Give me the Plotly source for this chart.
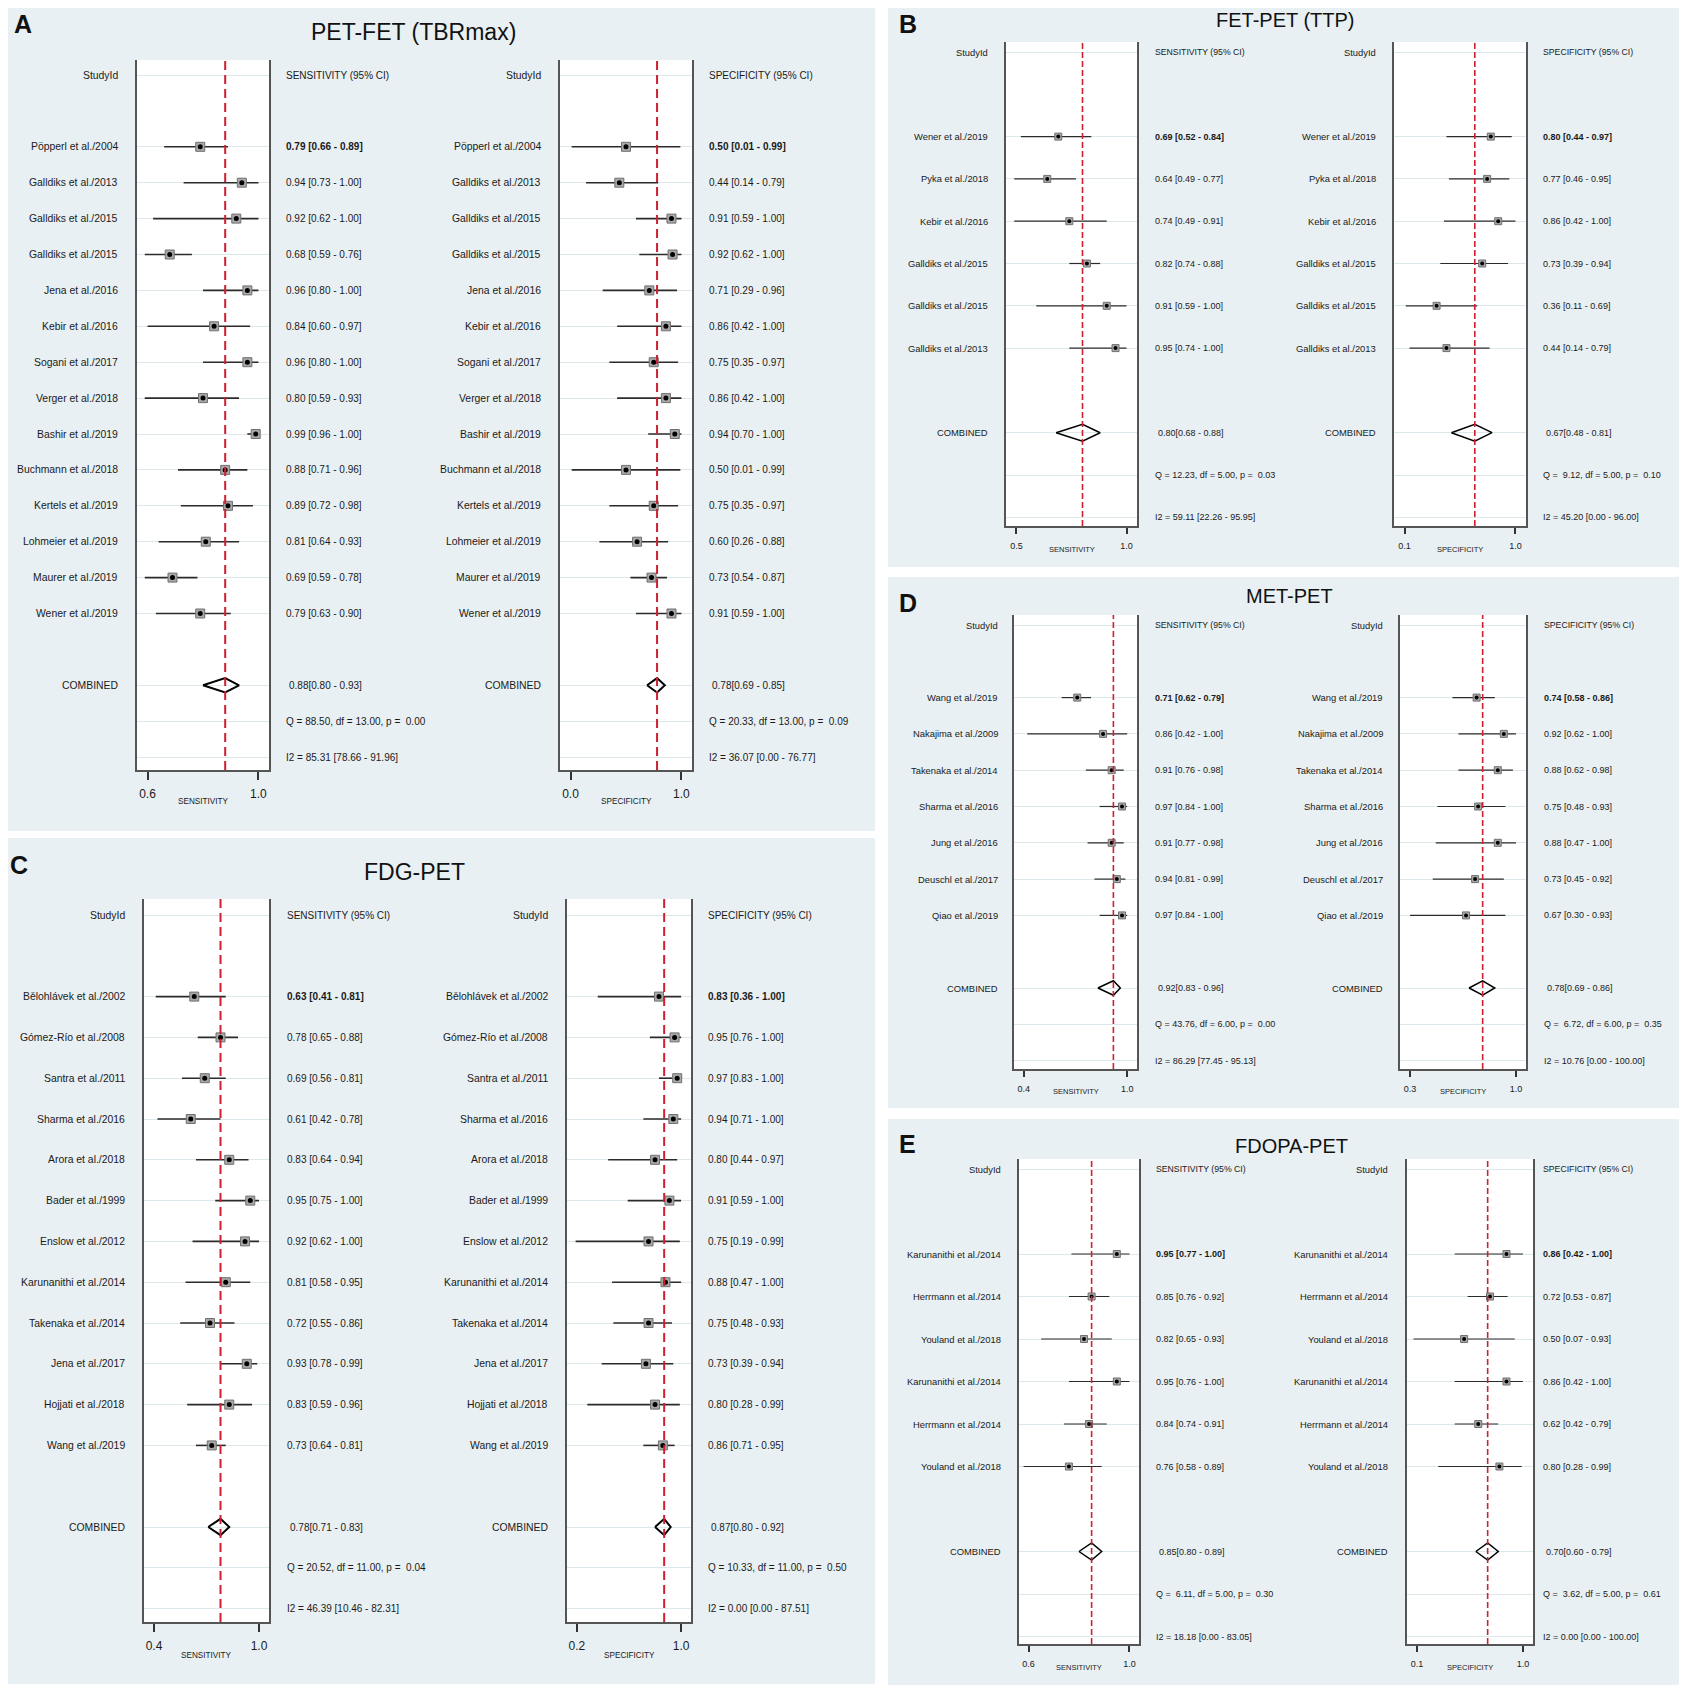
import plotly.graph_objects as go

# the page puts the figure 8px in from the top-left corner, so lay it out in page pixels
OFF = 8
WF = HF = 1687 - OFF
BG = "#e8f0f3"
GRID = "#dde8ed"
RED = "#cf1f30"
NARROW = "Liberation Sans Narrow, Arial Narrow, Liberation Sans, Arial, sans-serif"
REG = "Liberation Sans, Arial, sans-serif"

# ─── A: PET-FET (TBRmax) ───
a_study = ["Pöpperl et al./2004", "Galldiks et al./2013", "Galldiks et al./2015", "Galldiks et al./2015",
           "Jena et al./2016", "Kebir et al./2016", "Sogani et al./2017", "Verger et al./2018",
           "Bashir et al./2019", "Buchmann et al./2018", "Kertels et al./2019", "Lohmeier et al./2019",
           "Maurer et al./2019", "Wener et al./2019"]
a_sen = [0.79, 0.94, 0.92, 0.68, 0.96, 0.84, 0.96, 0.80, 0.99, 0.88, 0.89, 0.81, 0.69, 0.79]
a_sen_lo = [0.66, 0.73, 0.62, 0.59, 0.80, 0.60, 0.80, 0.59, 0.96, 0.71, 0.72, 0.64, 0.59, 0.63]
a_sen_hi = [0.89, 1.00, 1.00, 0.76, 1.00, 0.97, 1.00, 0.93, 1.00, 0.96, 0.98, 0.93, 0.78, 0.90]
a_spe = [0.50, 0.44, 0.91, 0.92, 0.71, 0.86, 0.75, 0.86, 0.94, 0.50, 0.75, 0.60, 0.73, 0.91]
a_spe_lo = [0.01, 0.14, 0.59, 0.62, 0.29, 0.42, 0.35, 0.42, 0.70, 0.01, 0.35, 0.26, 0.54, 0.59]
a_spe_hi = [0.99, 0.79, 1.00, 1.00, 0.96, 1.00, 0.97, 1.00, 1.00, 0.99, 0.97, 0.88, 0.87, 1.00]
a_sen_pool = [0.88, 0.80, 0.93]
a_spe_pool = [0.78, 0.69, 0.85]
a_sen_het = [88.50, 13.00, 0.00, 85.31, 78.66, 91.96]
a_spe_het = [20.33, 13.00, 0.09, 36.07, 0.00, 76.77]
a_sen_ticks = [0.6, 1.0]
a_spe_ticks = [0.0, 1.0]

# ─── B: FET-PET (TTP) ───
b_study = ["Wener et al./2019", "Pyka et al./2018", "Kebir et al./2016", "Galldiks et al./2015",
           "Galldiks et al./2015", "Galldiks et al./2013"]
b_sen = [0.69, 0.64, 0.74, 0.82, 0.91, 0.95]
b_sen_lo = [0.52, 0.49, 0.49, 0.74, 0.59, 0.74]
b_sen_hi = [0.84, 0.77, 0.91, 0.88, 1.00, 1.00]
b_spe = [0.80, 0.77, 0.86, 0.73, 0.36, 0.44]
b_spe_lo = [0.44, 0.46, 0.42, 0.39, 0.11, 0.14]
b_spe_hi = [0.97, 0.95, 1.00, 0.94, 0.69, 0.79]
b_sen_pool = [0.80, 0.68, 0.88]
b_spe_pool = [0.67, 0.48, 0.81]
b_sen_het = [12.23, 5.00, 0.03, 59.11, 22.26, 95.95]
b_spe_het = [9.12, 5.00, 0.10, 45.20, 0.00, 96.00]
b_sen_ticks = [0.5, 1.0]
b_spe_ticks = [0.1, 1.0]

# ─── C: FDG-PET ───
c_study = ["Bělohlávek et al./2002", "Gómez-Río et al./2008", "Santra et al./2011", "Sharma et al./2016",
           "Arora et al./2018", "Bader et al./1999", "Enslow et al./2012", "Karunanithi et al./2014",
           "Takenaka et al./2014", "Jena et al./2017", "Hojjati et al./2018", "Wang et al./2019"]
c_sen = [0.63, 0.78, 0.69, 0.61, 0.83, 0.95, 0.92, 0.81, 0.72, 0.93, 0.83, 0.73]
c_sen_lo = [0.41, 0.65, 0.56, 0.42, 0.64, 0.75, 0.62, 0.58, 0.55, 0.78, 0.59, 0.64]
c_sen_hi = [0.81, 0.88, 0.81, 0.78, 0.94, 1.00, 1.00, 0.95, 0.86, 0.99, 0.96, 0.81]
c_spe = [0.83, 0.95, 0.97, 0.94, 0.80, 0.91, 0.75, 0.88, 0.75, 0.73, 0.80, 0.86]
c_spe_lo = [0.36, 0.76, 0.83, 0.71, 0.44, 0.59, 0.19, 0.47, 0.48, 0.39, 0.28, 0.71]
c_spe_hi = [1.00, 1.00, 1.00, 1.00, 0.97, 1.00, 0.99, 1.00, 0.93, 0.94, 0.99, 0.95]
c_sen_pool = [0.78, 0.71, 0.83]
c_spe_pool = [0.87, 0.80, 0.92]
c_sen_het = [20.52, 11.00, 0.04, 46.39, 10.46, 82.31]
c_spe_het = [10.33, 11.00, 0.50, 0.00, 0.00, 87.51]
c_sen_ticks = [0.4, 1.0]
c_spe_ticks = [0.2, 1.0]

# ─── D: MET-PET ───
d_study = ["Wang et al./2019", "Nakajima et al./2009", "Takenaka et al./2014", "Sharma et al./2016",
           "Jung et al./2016", "Deuschl et al./2017", "Qiao et al./2019"]
d_sen = [0.71, 0.86, 0.91, 0.97, 0.91, 0.94, 0.97]
d_sen_lo = [0.62, 0.42, 0.76, 0.84, 0.77, 0.81, 0.84]
d_sen_hi = [0.79, 1.00, 0.98, 1.00, 0.98, 0.99, 1.00]
d_spe = [0.74, 0.92, 0.88, 0.75, 0.88, 0.73, 0.67]
d_spe_lo = [0.58, 0.62, 0.62, 0.48, 0.47, 0.45, 0.30]
d_spe_hi = [0.86, 1.00, 0.98, 0.93, 1.00, 0.92, 0.93]
d_sen_pool = [0.92, 0.83, 0.96]
d_spe_pool = [0.78, 0.69, 0.86]
d_sen_het = [43.76, 6.00, 0.00, 86.29, 77.45, 95.13]
d_spe_het = [6.72, 6.00, 0.35, 10.76, 0.00, 100.00]
d_sen_ticks = [0.4, 1.0]
d_spe_ticks = [0.3, 1.0]

# ─── E: FDOPA-PET ───
e_study = ["Karunanithi et al./2014", "Herrmann et al./2014", "Youland et al./2018",
           "Karunanithi et al./2014", "Herrmann et al./2014", "Youland et al./2018"]
e_sen = [0.95, 0.85, 0.82, 0.95, 0.84, 0.76]
e_sen_lo = [0.77, 0.76, 0.65, 0.76, 0.74, 0.58]
e_sen_hi = [1.00, 0.92, 0.93, 1.00, 0.91, 0.89]
e_spe = [0.86, 0.72, 0.50, 0.86, 0.62, 0.80]
e_spe_lo = [0.42, 0.53, 0.07, 0.42, 0.42, 0.28]
e_spe_hi = [1.00, 0.87, 0.93, 1.00, 0.79, 0.99]
e_sen_pool = [0.85, 0.80, 0.89]
e_spe_pool = [0.70, 0.60, 0.79]
e_sen_het = [6.11, 5.00, 0.30, 18.18, 0.00, 83.05]
e_spe_het = [3.62, 5.00, 0.61, 0.00, 0.00, 100.00]
e_sen_ticks = [0.6, 1.0]
e_spe_ticks = [0.1, 1.0]

fig = go.Figure()
layout = {}
shapes = []
annots = []


def px(x):
    return (x - OFF) / WF


def py(y):
    return 1 - (y - OFF) / HF


# panel geometry in page pixels
big = dict(fam=NARROW, lab=10.4, est=10, hdr=10, tick=12, xt=8.2, sq=9, dot=5, ciw=1.6, lw=2, rw=2,
           dash="9px,5px", ticklen=8, dw=2)
small = dict(fam=REG, lab=9.4, est=9, hdr=8.7, tick=9, xt=7.5, sq=7, dot=4, ciw=1.2, lw=1.6, rw=1.6,
             dash="6px,3px", ticklen=6, dw=1.5)
PA = dict(big, hy=75, step=35.9, top=60, bot=770, xt_y=802)
PC = dict(big, hy=915, step=40.8, top=899, bot=1622, xt_y=1655)
PB = dict(small, hy=52, step=42.3, top=42, bot=526, xt_y=549)
PD = dict(small, hy=625, step=36.3, top=615, bot=1069, xt_y=1091)
PE = dict(small, hy=1169, step=42.5, top=1159, bot=1644, xt_y=1667)


def txt(x, y, s, g, size, anchor, yref, bold=False):
    if bold:
        s = "<b>" + s + "</b>"
    annots.append(dict(x=px(x), xref="paper", y=y, yref=yref, text=s, showarrow=False,
                       xanchor=anchor, yanchor="middle",
                       font=dict(family=g["fam"], size=size, color="#1a1a1a")))


def forest(k, study, est, lo, hi, pool, het, ticks, measure, g, box):
    bl, br, labx, estx = box
    sx = "" if k == 1 else str(k)
    n = len(study)
    rows = list(range(2, n + 2))
    rc, rq, ri = n + 3, n + 4, n + 5
    pad = 0.095 * (1 - ticks[0])
    hy, step = g["hy"], g["step"]

    layout["xaxis" + sx] = dict(
        domain=[px(bl), px(br)], range=[ticks[0] - pad, 1 + pad], anchor="y" + sx,
        tickvals=ticks, ticktext=[f"{t:.1f}" for t in ticks], ticks="outside",
        ticklen=g["ticklen"], tickwidth=1.5, tickcolor="#333", ticklabelstandoff=4,
        tickfont=dict(family=g["fam"], size=g["tick"], color="#1a1a1a"),
        showline=True, linecolor="#555", linewidth=g["lw"], showgrid=False, zeroline=False)
    layout["yaxis" + sx] = dict(
        domain=[py(g["bot"]), py(g["top"])],
        range=[(g["bot"] - hy) / step, (g["top"] - hy) / step], anchor="x" + sx,
        tickvals=[0] + rows + [rc, rq, ri], showticklabels=False, ticks="",
        showgrid=True, gridcolor=GRID, gridwidth=1.2,
        showline=True, mirror=True, linecolor="#555", linewidth=g["lw"], zeroline=False)

    cx, cy = [], []
    for r, a, b in zip(rows, lo, hi):
        cx += [a, b, None]
        cy += [r, r, None]
    ax = dict(xaxis="x" + sx, yaxis="y" + sx, hoverinfo="skip", showlegend=False)
    fig.add_trace(go.Scatter(x=cx, y=cy, mode="lines",
                             line=dict(color="#2b2b2b", width=g["ciw"]), **ax))
    fig.add_trace(go.Scatter(x=est, y=rows, mode="markers",
                             marker=dict(symbol="square", size=g["sq"], color="#a8a8a8",
                                         line=dict(color="#707070", width=1)), **ax))
    fig.add_trace(go.Scatter(x=est, y=rows, mode="markers",
                             marker=dict(symbol="circle", size=g["dot"], color="#000"), **ax))
    p, plo, phi = pool
    fig.add_trace(go.Scatter(x=[plo, p, phi, p, plo], y=[rc, rc - 0.2, rc, rc + 0.2, rc],
                             mode="lines", line=dict(color="#000", width=g["dw"]), **ax))
    shapes.append(dict(type="line", xref="x" + sx, yref="y" + sx + " domain",
                       x0=p, x1=p, y0=0, y1=1, layer="above",
                       line=dict(color=RED, width=g["rw"], dash=g["dash"])))

    # white plot box
    shapes.append(dict(type="rect", xref="paper", yref="paper", layer="below",
                       x0=px(bl), x1=px(br), y0=py(g["bot"]), y1=py(g["top"]),
                       fillcolor="white", line=dict(width=0)))

    yr = "y" + sx
    txt(labx, 0, "StudyId", g, g["lab"], "right", yr)
    txt(estx, 0, f"{measure} (95% CI)", g, g["hdr"], "left", yr)
    for i, r in enumerate(rows):
        txt(labx, r, study[i], g, g["lab"], "right", yr)
        txt(estx, r, f"{est[i]:.2f} [{lo[i]:.2f} - {hi[i]:.2f}]", g, g["est"], "left", yr,
            bold=(i == 0))
    txt(labx, rc, "COMBINED", g, g["lab"], "right", yr)
    txt(estx + 3, rc, f"{p:.2f}[{plo:.2f} - {phi:.2f}]", g, g["est"], "left", yr)
    q, df, pv, i2, i2lo, i2hi = het
    txt(estx, rq, f"Q = {q:5.2f}, df = {df:.2f}, p = {pv:5.2f}".replace(" ", "&nbsp;"),
        g, g["est"], "left", yr)
    txt(estx, ri, f"I2 = {i2:.2f} [{i2lo:.2f} - {i2hi:.2f}]", g, g["est"], "left", yr)
    annots.append(dict(x=px((bl + br) / 2), xref="paper", y=py(g["xt_y"]), yref="paper",
                       text=measure, showarrow=False, xanchor="center", yanchor="middle",
                       font=dict(family=g["fam"], size=g["xt"], color="#1a1a1a")))


# panel backgrounds (page pixels: x0, y0, x1, y1)
for x0, y0, x1, y1 in [(2, 2, 875, 831), (2, 838, 875, 1684), (888, 2, 1685, 567),
                       (888, 577, 1685, 1108), (888, 1119, 1685, 1685)]:
    shapes.append(dict(type="rect", xref="paper", yref="paper", layer="below",
                       x0=max(px(x0), 0), x1=px(x1), y0=py(y1), y1=min(py(y0), 1),
                       fillcolor=BG, line=dict(width=0)))

forest(1, a_study, a_sen, a_sen_lo, a_sen_hi, a_sen_pool, a_sen_het, a_sen_ticks, "SENSITIVITY", PA, (137, 269, 120, 284))
forest(2, a_study, a_spe, a_spe_lo, a_spe_hi, a_spe_pool, a_spe_het, a_spe_ticks, "SPECIFICITY", PA, (560, 692, 543, 707))
forest(3, c_study, c_sen, c_sen_lo, c_sen_hi, c_sen_pool, c_sen_het, c_sen_ticks, "SENSITIVITY", PC, (144, 269, 127, 285))
forest(4, c_study, c_spe, c_spe_lo, c_spe_hi, c_spe_pool, c_spe_het, c_spe_ticks, "SPECIFICITY", PC, (567, 691, 550, 706))
forest(5, b_study, b_sen, b_sen_lo, b_sen_hi, b_sen_pool, b_sen_het, b_sen_ticks, "SENSITIVITY", PB, (1006, 1137, 990, 1153))
forest(6, b_study, b_spe, b_spe_lo, b_spe_hi, b_spe_pool, b_spe_het, b_spe_ticks, "SPECIFICITY", PB, (1394, 1526, 1378, 1541))
forest(7, d_study, d_sen, d_sen_lo, d_sen_hi, d_sen_pool, d_sen_het, d_sen_ticks, "SENSITIVITY", PD, (1014, 1137, 1000, 1153))
forest(8, d_study, d_spe, d_spe_lo, d_spe_hi, d_spe_pool, d_spe_het, d_spe_ticks, "SPECIFICITY", PD, (1400, 1526, 1385, 1542))
forest(9, e_study, e_sen, e_sen_lo, e_sen_hi, e_sen_pool, e_sen_het, e_sen_ticks, "SENSITIVITY", PE, (1019, 1139, 1003, 1154))
forest(10, e_study, e_spe, e_spe_lo, e_spe_hi, e_spe_pool, e_spe_het, e_spe_ticks, "SPECIFICITY", PE, (1407, 1533, 1390, 1541))

# panel titles and letters
for x, y, s, fam, size in [(413, 32, "PET-FET (TBRmax)", NARROW, 23), (414, 872, "FDG-PET", NARROW, 23),
                           (1285, 20, "FET-PET (TTP)", REG, 20), (1289, 596, "MET-PET", REG, 20),
                           (1291, 1146, "FDOPA-PET", REG, 20)]:
    annots.append(dict(x=px(x), y=py(y), xref="paper", yref="paper", text=s, showarrow=False,
                       xanchor="center", yanchor="middle", font=dict(family=fam, size=size, color="#111")))
for x, y, s in [(12, 24, "A"), (8, 865, "C"), (897, 24, "B"), (897, 603, "D"), (897, 1144, "E")]:
    annots.append(dict(x=px(x), y=py(y), xref="paper", yref="paper", text="<b>" + s + "</b>",
                       showarrow=False, xanchor="left", yanchor="middle",
                       font=dict(family=REG, size=25, color="#111")))

fig.update_layout(
    width=WF, height=HF, autosize=False,
    margin=dict(l=0, r=0, t=0, b=0),
    paper_bgcolor="white", plot_bgcolor="rgba(0,0,0,0)",
    showlegend=False, shapes=shapes, annotations=annots,
    **layout
)
fig.write_html("out.html")
